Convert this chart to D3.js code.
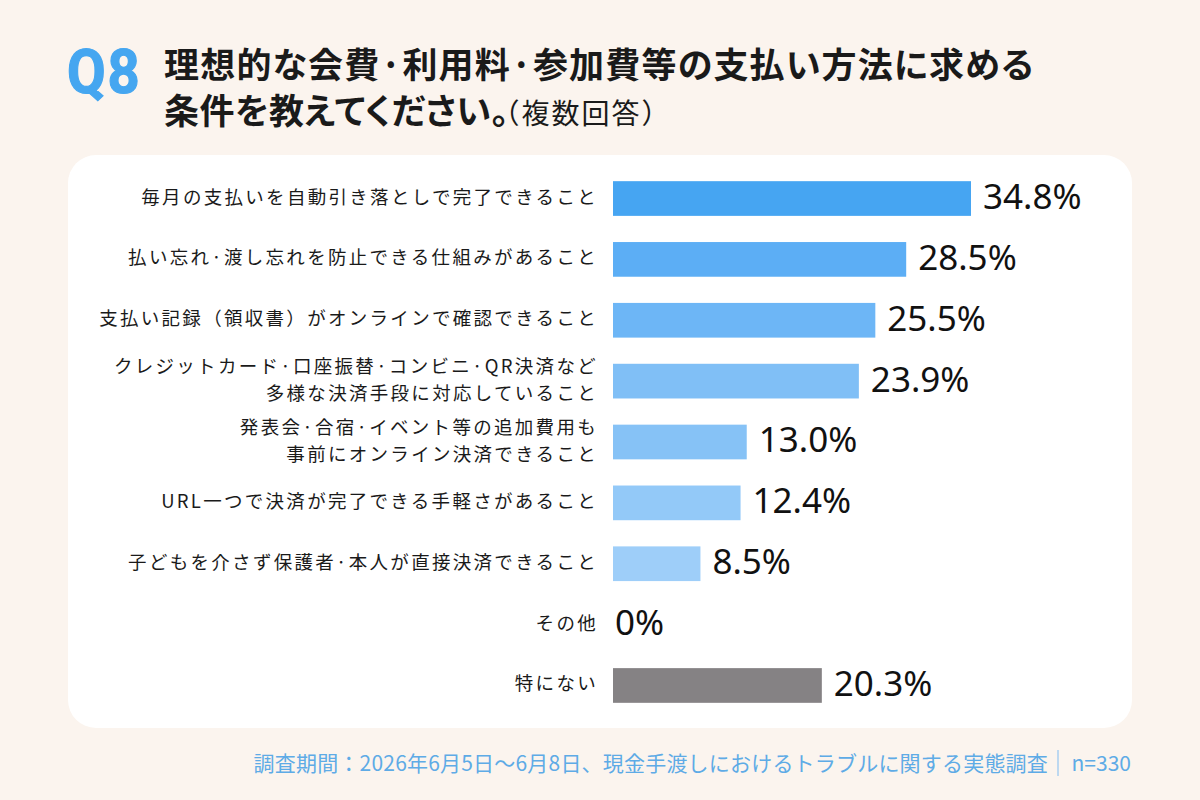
<!DOCTYPE html>
<html><head><meta charset="utf-8">
<script src="https://cdn.jsdelivr.net/npm/d3@7"></script>
<style>
html,body{margin:0;padding:0;background:#fbf4ee;}
svg{display:block;font-family:"Noto Sans CJK JP","Noto Sans",sans-serif;}
.palt{font-feature-settings:"palt" 1;}
</style></head><body>
<svg id="chart" width="1200" height="800"></svg>
<script>
const categories = [
  ["毎月の支払いを自動引き落としで完了できること"],
  ["払い忘れ·渡し忘れを防止できる仕組みがあること"],
  ["支払い記録（領収書）がオンラインで確認できること"],
  ["クレジットカード·口座振替·コンビニ·QR決済など","多様な決済手段に対応していること"],
  ["発表会·合宿·イベント等の追加費用も","事前にオンライン決済できること"],
  ["URL一つで決済が完了できる手軽さがあること"],
  ["子どもを介さず保護者·本人が直接決済できること"],
  ["その他"],
  ["特にない"]
];
const values = [34.8, 28.5, 25.5, 23.9, 13.0, 12.4, 8.5, 0, 20.3];
const valueLabels = ["34.8%","28.5%","25.5%","23.9%","13.0%","12.4%","8.5%","0%","20.3%"];
const barColors = ["#46a5f2","#5caef5","#6db6f6","#80bff6","#86c2f6","#93c9f8","#9ecef9","#9ecef9","#858284"];
const titleLines = ["理想的な会費·利用料·参加費等の支払い方法に求める","条件を教えてください。"];
const titleNote = "（複数回答）";
const footer = "調査期間：2026年6月5日～6月8日、現金手渡しにおけるトラブルに関する実態調査";
const footerN = "n=330";

const svg = d3.select("#chart");
// card
svg.append("rect").attr("x",68).attr("y",155).attr("width",1064).attr("height",573)
  .attr("rx",28).attr("fill","#ffffff");

// title
svg.append("text").attr("transform","translate(67,93) scale(0.92,1)").attr("fill","#45a6f0")
  .attr("stroke","#45a6f0").attr("stroke-width",1.2)
  .attr("font-size",61).attr("font-weight",700).attr("font-family","Roboto, 'Noto Sans', sans-serif")
  .attr("letter-spacing",2).text("Q8");
svg.append("text").attr("class","palt").attr("x",164).attr("y",78).attr("fill","#1a1a1a")
  .attr("font-size",35).attr("font-weight",700).attr("letter-spacing",1.2).text(titleLines[0]);
const t2 = svg.append("text").attr("x",164).attr("y",124).attr("fill","#1a1a1a")
  .attr("font-size",35).attr("font-weight",700);
t2.append("tspan").attr("class","palt").attr("letter-spacing",0.5).text(titleLines[1]);
t2.append("tspan").attr("font-size",28).attr("font-weight",400).attr("letter-spacing",2).attr("dx",-4).text(titleNote);

// scales
const x = d3.scaleLinear().domain([0, 34.8]).range([613, 971]);
const y = d3.scaleBand().domain(d3.range(values.length)).range([169, 715]).paddingInner(0.43).paddingOuter(0.2);

const g = svg.append("g");
g.selectAll("rect.bar").data(values).join("rect").attr("class","bar")
  .attr("x", x(0)).attr("y",(d,i)=>y(i)).attr("height",y.bandwidth())
  .attr("width",d=>x(d)-x(0)).attr("fill",(d,i)=>barColors[i]);

g.selectAll("text.val").data(values).join("text").attr("class","val")
  .attr("x",d=>x(d)+ (d>0?12:2)).attr("y",(d,i)=>y(i)+y.bandwidth()/2+1)
  .attr("dominant-baseline","middle").attr("font-size",35).attr("fill","#111")
  .attr("font-family","'Noto Sans','Open Sans',sans-serif")
  .text((d,i)=>valueLabels[i]);

categories.forEach((lines,i)=>{
  const cy = y(i)+y.bandwidth()/2;
  const lh = 27;
  lines.forEach((l,j)=>{
    g.append("text").attr("text-anchor","end").attr("font-size",18.5)
      .attr("letter-spacing",2.3).attr("fill","#1a1a1a")
      .attr("x",598).attr("y",cy + (j-(lines.length-1)/2)*lh)
      .attr("dominant-baseline","middle").text(l);
  });
});

// footer
svg.append("text").attr("x",1131).attr("y",771).attr("text-anchor","end").attr("fill","#5eabe6")
  .attr("font-size",21).text(footerN);
svg.append("line").attr("x1",1058).attr("x2",1058).attr("y1",750).attr("y2",776).attr("stroke","#a9cff0").attr("stroke-width",1.5);
svg.append("text").attr("x",1048).attr("y",771).attr("text-anchor","end").attr("fill","#5eabe6")
  .attr("font-size",21).attr("letter-spacing",0.2).text(footer);
</script></body></html>
